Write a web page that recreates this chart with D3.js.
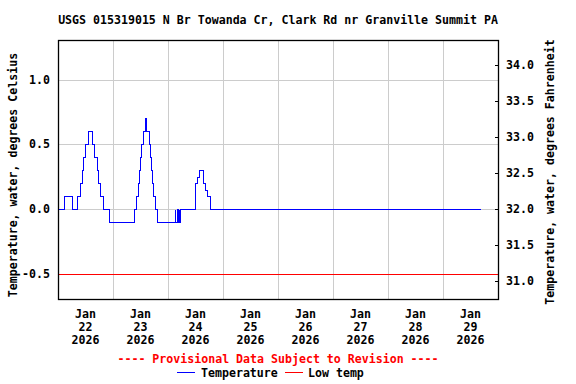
<!DOCTYPE html>
<html>
<head>
<meta charset="utf-8">
<script src="https://cdn.jsdelivr.net/npm/d3@7"></script>
<style>
  body { margin: 0; background: #fff; }
  text { font-family: "DejaVu Sans Mono", monospace; font-weight: bold; fill: #000; }
</style>
</head>
<body>
<div id="chart"></div>
<script>
// data: hours after Jan 22 2026 00:00 where the reading changes, and the value (deg C)
const stepHours = [0, 2.8, 6.2, 8.5, 9.5, 10.4, 11.0, 11.8, 13.0, 15.0, 15.8, 16.8, 17.6, 18.5, 19.6, 22.2,
    33.0, 34.2, 34.7, 35.2, 35.7, 36.4, 37.2, 38.0, 38.6, 39.6, 40.0, 40.5, 40.9, 41.4, 42.2, 43.3,
    51.0, 51.25, 51.9, 52.15, 52.75, 53.0, 53.2, 59.8, 60.8, 61.6, 63.4, 64.3, 65.0, 66.4, 184.1];
const tempC = [0.0, 0.1, 0.0, 0.1, 0.2, 0.3, 0.4, 0.5, 0.6, 0.5, 0.4, 0.3, 0.2, 0.1, 0.0, -0.1,
    0.0, 0.1, 0.2, 0.3, 0.4, 0.5, 0.6, 0.7, 0.6, 0.5, 0.4, 0.3, 0.2, 0.1, 0.0, -0.1,
    0.0, -0.1, 0.0, -0.1, 0.0, -0.1, 0.0, 0.2, 0.25, 0.3, 0.2, 0.15, 0.1, 0.0, 0.0];
const lowTemp = -0.5;
const days = ['22', '23', '24', '25', '26', '27', '28', '29'];
const leftTicks = [-0.5, 0.0, 0.5, 1.0];
const rightTicks = [31.0, 31.5, 32.0, 32.5, 33.0, 33.5, 34.0];

const start = new Date(2026, 0, 22);
const series = stepHours.map((h, i) => ({
    date: new Date(start.getTime() + h * 3600e3),
    value: tempC[i]
}));

// size
const width = 576,
    height = 384,
    margin = { left: 58, right: 78, top: 40, bottom: 85 };
const x0 = margin.left, x1 = width - margin.right,
    y0 = margin.top, y1 = height - margin.bottom;

const svg = d3.select('#chart')
    .append('svg')
    .attr('width', width)
    .attr('height', height);

// scales
const x = d3.scaleTime()
    .domain([start, new Date(2026, 0, 30)])
    .range([x0, x1]);
const y = d3.scaleLinear()
    .domain([-0.696, 1.306])
    .range([y1, y0]);
const yF = d3.scaleLinear()
    .domain(y.domain().map(c => c * 1.8 + 32))
    .range([y1, y0]);

// grid
const dayTicks = d3.timeDay.range(d3.timeDay.offset(start, 1), x.domain()[1]);
svg.append('g')
    .selectAll('line')
    .data(dayTicks)
    .enter()
    .append('line')
    .attr('x1', d => Math.round(x(d)) + 0.5)
    .attr('x2', d => Math.round(x(d)) + 0.5)
    .attr('y1', y0)
    .attr('y2', y1)
    .attr('stroke', '#cccccc');
svg.append('g')
    .selectAll('line')
    .data(leftTicks)
    .enter()
    .append('line')
    .attr('x1', x0)
    .attr('x2', x1)
    .attr('y1', d => Math.round(y(d)) + 0.5)
    .attr('y2', d => Math.round(y(d)) + 0.5)
    .attr('stroke', '#cccccc');

// low temp line
svg.append('line')
    .attr('x1', x0)
    .attr('x2', x1)
    .attr('y1', Math.round(y(lowTemp)) + 0.5)
    .attr('y2', Math.round(y(lowTemp)) + 0.5)
    .attr('stroke', '#ff0000');

// temperature line
const line = d3.line()
    .x(d => Math.round(x(d.date)) + 0.5)
    .y(d => Math.round(y(d.value)) + 0.5)
    .curve(d3.curveStepAfter);
svg.append('path')
    .datum(series)
    .attr('d', line)
    .attr('fill', 'none')
    .attr('stroke', '#0000ff')
    .attr('stroke-width', 1)
    .attr('shape-rendering', 'crispEdges');

// frame
svg.append('rect')
    .attr('x', x0 + 0.5)
    .attr('y', y0 + 0.5)
    .attr('width', x1 - x0)
    .attr('height', y1 - y0)
    .attr('fill', 'none')
    .attr('stroke', '#000')
    .attr('stroke-width', 1.3);

// left axis labels
svg.append('g')
    .selectAll('text')
    .data(leftTicks)
    .enter()
    .append('text')
    .attr('x', 50)
    .attr('y', d => y(d) + 4)
    .attr('text-anchor', 'end')
    .style('font-size', '11.6px')
    .text(d => d.toFixed(1));

// right axis ticks + labels
const right = svg.append('g')
    .selectAll('g')
    .data(rightTicks)
    .enter()
    .append('g');
right.append('line')
    .attr('x1', x1 - 3)
    .attr('x2', x1)
    .attr('y1', d => Math.round(yF(d)) + 0.5)
    .attr('y2', d => Math.round(yF(d)) + 0.5)
    .attr('stroke', '#000');
right.append('text')
    .attr('x', 506)
    .attr('y', d => yF(d) + 4)
    .style('font-size', '11.6px')
    .text(d => d.toFixed(1));

// x labels at noon
const xl = svg.append('g')
    .selectAll('text')
    .data(days)
    .enter()
    .append('text')
    .attr('text-anchor', 'middle')
    .style('font-size', '11.6px')
    .attr('transform', (d, i) => `translate(${x(d3.timeHour.offset(start, i * 24 + 12))},0)`);
xl.append('tspan').attr('x', 0).attr('y', 318).text('Jan');
xl.append('tspan').attr('x', 0).attr('y', 331).text(d => d);
xl.append('tspan').attr('x', 0).attr('y', 344).text('2026');

// titles
svg.append('text')
    .attr('x', (x0 + x1) / 2)
    .attr('y', 24)
    .attr('text-anchor', 'middle')
    .style('font-size', '11.6px')
    .text('USGS 015319015 N Br Towanda Cr, Clark Rd nr Granville Summit PA');
svg.append('text')
    .attr('transform', 'translate(17,175) rotate(-90)')
    .attr('text-anchor', 'middle')
    .style('font-size', '11.6px')
    .text('Temperature, water, degrees Celsius');
svg.append('text')
    .attr('transform', 'translate(554,172) rotate(-90)')
    .attr('text-anchor', 'middle')
    .style('font-size', '11.6px')
    .text('Temperature, water, degrees Fahrenheit');

// legend
svg.append('text')
    .attr('x', 278)
    .attr('y', 363)
    .attr('text-anchor', 'middle')
    .style('font-size', '11.6px')
    .style('fill', '#ff0000')
    .text('---- Provisional Data Subject to Revision ----');
const legend = [
    { label: 'Temperature', color: '#0000ff', lx: 177, tx: 201 },
    { label: 'Low temp', color: '#ff0000', lx: 285, tx: 308 }
];
const lg = svg.append('g')
    .selectAll('g')
    .data(legend)
    .enter()
    .append('g');
lg.append('line')
    .attr('x1', d => d.lx)
    .attr('x2', d => d.lx + 18)
    .attr('y1', 372.5)
    .attr('y2', 372.5)
    .attr('stroke', d => d.color);
lg.append('text')
    .attr('x', d => d.tx)
    .attr('y', 377)
    .style('font-size', '11.6px')
    .text(d => d.label);
</script>
</body>
</html>
